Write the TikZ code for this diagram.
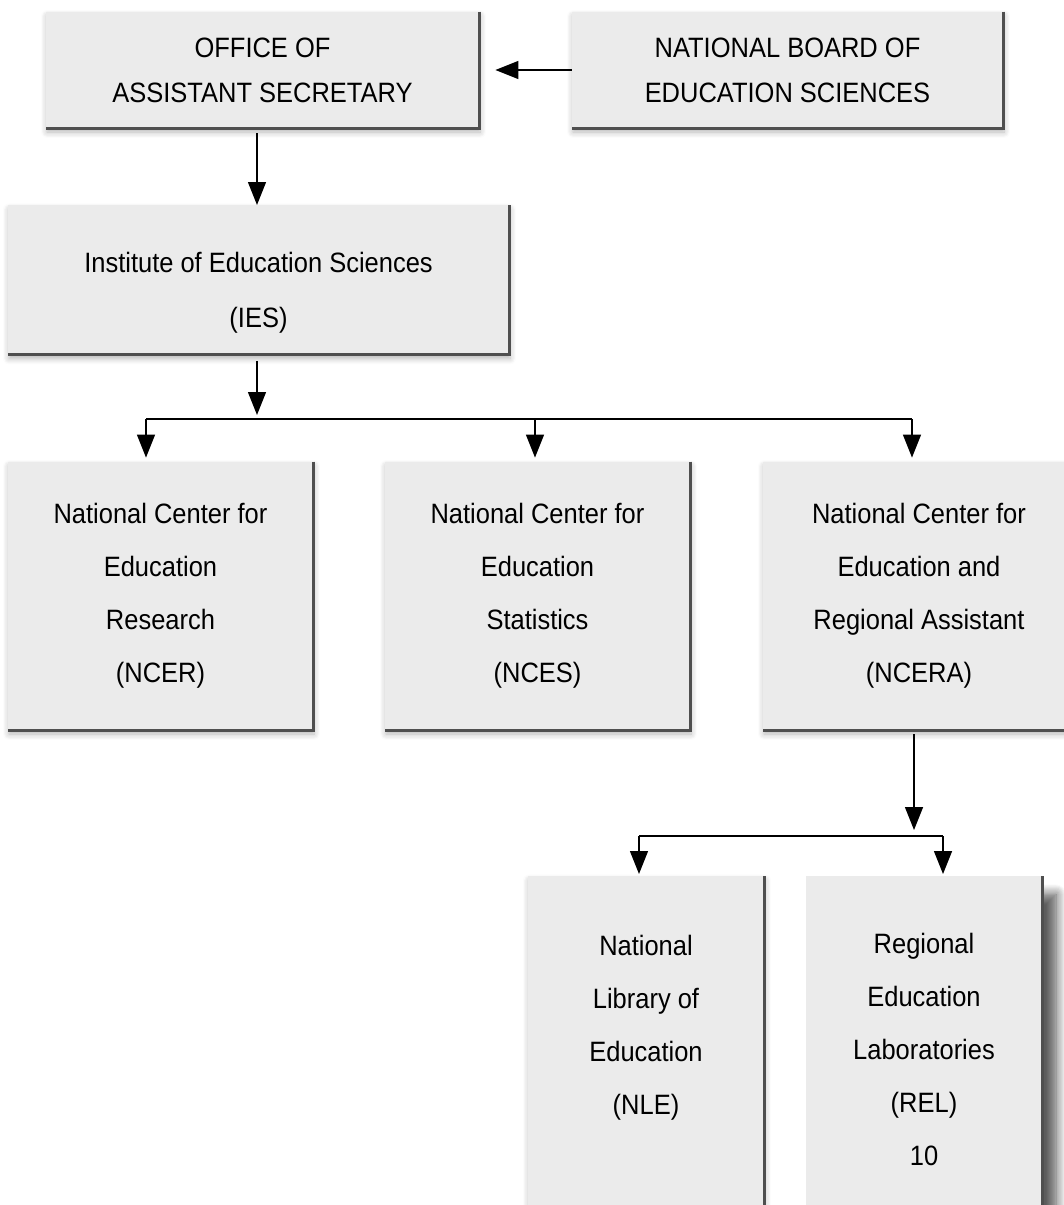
\documentclass[tikz,border=0pt]{standalone}
\usepackage{fontspec}
\setmainfont{Liberation Sans}[FakeStretch=0.91]
\usepackage{xcolor}
\usetikzlibrary{positioning,arrows.meta,shadows.blur}
\definecolor{boxgray}{HTML}{EBEBEB}
\definecolor{rimgray}{HTML}{4F4F4F}

\begin{document}
\begin{tikzpicture}[
    x=0.5pt,
    y=-0.5pt,
    unit/.style={
        fill=boxgray,
        inner sep=0pt,
        align=center,
        blur shadow={shadow xshift=0.5pt,shadow yshift=-2pt,shadow blur radius=3pt,shadow blur steps=6,shadow opacity=30}
    },
    headbox/.style={unit,minimum height=58pt,font=\fontsize{14}{22.5}\selectfont},
    centerbox/.style={unit,minimum width=152.5pt,minimum height=134pt,font=\fontsize{14}{26.5}\selectfont},
    tallbox/.style={unit,anchor=north,minimum width=118pt,text height=#1,text depth=200pt,font=\fontsize{14}{26.5}\selectfont},
    rim/.style={rimgray,line width=1.5pt},
    link/.style={->,line width=0.7pt},
    >={Triangle[width=9pt,length=11.5pt]}
]
\useasboundingbox (0,0) rectangle (1064,1205);
\clip (0,0) rectangle (1064,1205);

% Define units
\node[headbox,minimum width=216.5pt] (oas) at (262.5,70) {OFFICE OF\\ASSISTANT SECRETARY};
\node[headbox,minimum width=215.5pt] (nbes) at (787.5,70) {NATIONAL BOARD OF\\EDUCATION SCIENCES};
\node[unit,anchor=north,minimum width=250.5pt,text height=61pt,text depth=13.5pt,font=\fontsize{14}{27.5}\selectfont] (ies) at (258.5,205) {Institute of Education Sciences\\(IES)};
\node[centerbox] (ncer) at (160.5,596) {National Center for\\Education\\Research\\(NCER)};
\node[centerbox] (nces) at (537.5,596) {National Center for\\Education\\Statistics\\(NCES)};
\node[centerbox,minimum width=156pt] (ncera) at (919,596) {National Center for\\Education and\\Regional Assistant\\(NCERA)};
\node[tallbox=119pt] (nle) at (646,876) {National\\Library of\\Education\\(NLE)};
\node[tallbox=144.5pt,
    blur shadow={shadow xshift=7pt,shadow yshift=-9pt,shadow blur radius=5pt,shadow blur steps=10,shadow opacity=40}] (rel) at (924,876) {Regional\\Education\\Laboratories\\(REL)\\10};

% Dark edges
\foreach \n in {oas,nbes,ies,ncer,nces,ncera,nle,rel}
    \draw[rim] (\n.north east) -- (\n.south east) -- (\n.south west);

% Branch points
\coordinate (split) at (257,419);
\coordinate (b1) at (146,419);
\coordinate (b2) at (535,419);
\coordinate (b3) at (912,419);
\coordinate (split2) at (914,836);
\coordinate (c1) at (639,836);
\coordinate (c2) at (943,836);

% Connections
\draw[link,shorten >=8pt] (nbes.west) -- (oas.east);
\draw[link,shorten <=2.5pt] (split |- oas.south) -- (split |- ies.north);
\draw[link,shorten <=3pt,shorten >=2pt] (split |- ies.south) -- (split);
\draw[line width=0.7pt] (b1) -- (b3);
\foreach \b/\t in {b1/ncer,b2/nces,b3/ncera}
    \draw[link,shorten >=2pt] (\b) -- (\b |- \t.north);
\draw[link,shorten <=2pt,shorten >=3pt] (split2 |- ncera.south) -- (split2);
\draw[line width=0.7pt] (c1) -- (c2);
\foreach \c/\t in {c1/nle,c2/rel}
    \draw[link,shorten >=1pt] (\c) -- (\c |- \t.north);

\end{tikzpicture}
\end{document}
